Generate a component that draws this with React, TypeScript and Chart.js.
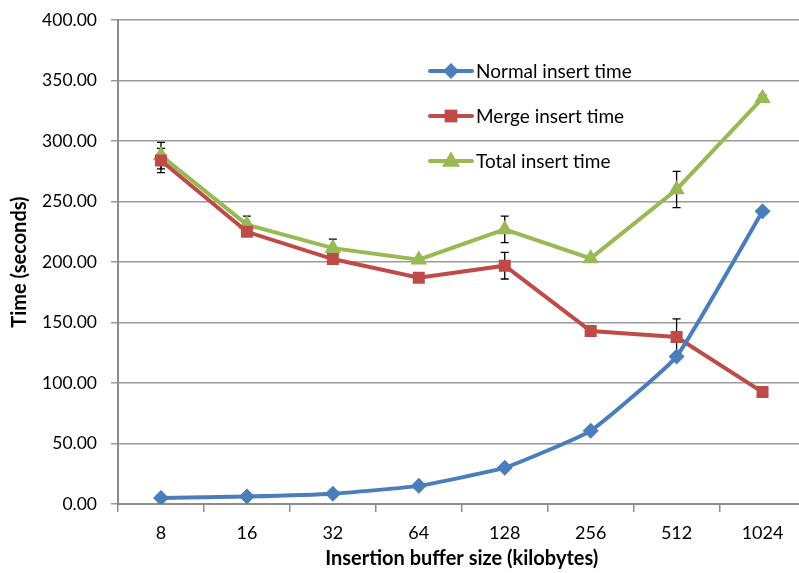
import React, { useEffect, useRef } from "react";
import { Chart, registerables } from "chart.js";

Chart.register(...registerables);

const categories = ["8", "16", "32", "64", "128", "256", "512", "1024"];
const normalTime = [5, 6.2, 8.5, 15, 30, 60.5, 122, 242];
const mergeTime = [284, 225, 202.5, 187, 197, 143, 138, 92.5];
const totalTime = [288, 231, 211.5, 202, 227, 203, 260, 335.5];
const mergeErr = [10, 0, 0, 0, 11, 0, 15, 0];
const totalErr = [11, 7, 7.5, 0, 11, 0, 15, 2.5];
const yTicks = [0, 50, 100, 150, 200, 250, 300, 350, 400];

const BLUE = "#4A7EBB";
const RED = "#BE4B48";
const GREEN = "#98B954";
const FONT = "Lato, 'Open Sans', sans-serif";

const errorBarPlugin = {
  id: "errorBars",
  beforeDatasetsDraw(chart: any) {
    const ctx = chart.ctx;
    const x = chart.scales.x;
    const y = chart.scales.y;
    const sets = [
      { vals: mergeTime, err: mergeErr },
      { vals: totalTime, err: totalErr },
    ];
    ctx.save();
    ctx.strokeStyle = "#000";
    ctx.lineWidth = 1.3;
    sets.forEach((s) => {
      s.vals.forEach((v, i) => {
        const e = s.err[i];
        if (!e) return;
        const px = x.getPixelForValue(i);
        const top = y.getPixelForValue(v + e);
        const bot = y.getPixelForValue(v - e);
        ctx.beginPath();
        ctx.moveTo(px, top);
        ctx.lineTo(px, bot);
        ctx.moveTo(px - 4, top);
        ctx.lineTo(px + 4, top);
        ctx.moveTo(px - 4, bot);
        ctx.lineTo(px + 4, bot);
        ctx.stroke();
      });
    });
    ctx.restore();
  },
};

function drawMarker(ctx: CanvasRenderingContext2D, style: string, cx: number, cy: number, r: number) {
  ctx.beginPath();
  if (style === "rectRot") {
    ctx.moveTo(cx, cy - r);
    ctx.lineTo(cx + r, cy);
    ctx.lineTo(cx, cy + r);
    ctx.lineTo(cx - r, cy);
  } else if (style === "rect") {
    ctx.rect(cx - r * 0.75, cy - r * 0.75, r * 1.5, r * 1.5);
  } else {
    ctx.moveTo(cx, cy - r);
    ctx.lineTo(cx + r * 0.95, cy + r * 0.6);
    ctx.lineTo(cx - r * 0.95, cy + r * 0.6);
  }
  ctx.closePath();
  ctx.fill();
}

const legendPlugin = {
  id: "insideLegend",
  afterDraw(chart: any) {
    const ctx = chart.ctx;
    const area = chart.chartArea;
    const x0 = area.left + 312;
    const y0 = 71;
    ctx.save();
    chart.data.datasets.forEach((ds: any, i: number) => {
      const yy = y0 + i * 45;
      ctx.strokeStyle = ds.borderColor;
      ctx.lineWidth = 4;
      ctx.lineCap = "round";
      ctx.beginPath();
      ctx.moveTo(x0, yy);
      ctx.lineTo(x0 + 42, yy);
      ctx.stroke();
      ctx.fillStyle = ds.backgroundColor;
      drawMarker(ctx, ds.pointStyle, x0 + 21, yy, ds.pointRadius);
      ctx.fillStyle = "#000";
      ctx.font = `19px ${FONT}`;
      ctx.textBaseline = "middle";
      ctx.textAlign = "left";
      ctx.fillText(ds.label, x0 + 46, yy + 1);
    });
    ctx.restore();
  },
};

export default function App() {
  const ref = useRef<HTMLCanvasElement | null>(null);
  useEffect(() => {
    if (!ref.current) return;
    const chart = new Chart(ref.current, {
      type: "line",
      data: {
        labels: categories,
        datasets: [
          {
            label: "Normal insert time",
            data: normalTime,
            borderColor: BLUE,
            backgroundColor: BLUE,
            borderWidth: 4,
            pointStyle: "rectRot",
            pointRadius: 8,
            pointHoverRadius: 8,
            pointBorderWidth: 0,
            tension: 0.12,
          },
          {
            label: "Merge insert time",
            data: mergeTime,
            borderColor: RED,
            backgroundColor: RED,
            borderWidth: 4,
            pointStyle: "rect",
            pointRadius: 8.5,
            pointHoverRadius: 8.5,
            pointBorderWidth: 0,
            tension: 0,
          },
          {
            label: "Total insert time",
            data: totalTime,
            borderColor: GREEN,
            backgroundColor: GREEN,
            borderWidth: 4,
            pointStyle: "triangle",
            pointRadius: 9.5,
            pointHoverRadius: 9.5,
            pointBorderWidth: 0,
            tension: 0,
          },
        ],
      },
      options: {
        animation: false,
        responsive: false,
        devicePixelRatio: 1,
        layout: { padding: { top: 10, right: 5, left: 8, bottom: 2 } },
        plugins: {
          legend: { display: false },
          tooltip: { enabled: false },
        },
        scales: {
          x: {
            type: "category",
            offset: true,
            grid: {
              offset: true,
              drawOnChartArea: false,
              drawTicks: true,
              tickLength: 8,
              color: "#8c8c8c",
              lineWidth: 1.5,
            },
            border: { color: "#8c8c8c", width: 2 },
            ticks: {
              color: "#000",
              font: { family: FONT, size: 18 },
              padding: 10,
              maxRotation: 0,
            },
            title: {
              display: true,
              text: "Insertion buffer size (kilobytes)",
              color: "#000",
              font: { family: FONT, size: 20, weight: "bold" },
              padding: { top: 0, bottom: 0 },
            },
            afterFit(scale: any) {
              scale.height = 573 - 504 - 2;
            },
          },
          y: {
            min: 0,
            max: 400,
            afterBuildTicks(scale: any) {
              scale.ticks = yTicks.map((v) => ({ value: v }));
            },
            grid: {
              color: "#9a9a9a",
              lineWidth: 1.5,
              tickLength: 7,
            },
            border: { color: "#8c8c8c", width: 2 },
            ticks: {
              color: "#000",
              font: { family: FONT, size: 17.5, lineHeight: 0.7 },
              padding: 14,
              callback: (v: any) => Number(v).toFixed(2),
            },
            title: {
              display: true,
              text: "Time (seconds)",
              color: "#000",
              font: { family: FONT, size: 20, weight: "bold" },
              padding: { top: 0, bottom: 4 },
            },
            afterFit(scale: any) {
              scale.width = 118 - 8;
            },
          },
        },
      },
      plugins: [errorBarPlugin, legendPlugin],
    } as any);
    return () => chart.destroy();
  }, []);
  return (
    <div
      style={{
        position: "fixed",
        left: 0,
        top: 0,
        width: 799,
        height: 573,
        overflow: "hidden",
        background: "#fff",
      }}
    >
      <canvas ref={ref} width={815} height={573} style={{ display: "block" }} />
    </div>
  );
}
